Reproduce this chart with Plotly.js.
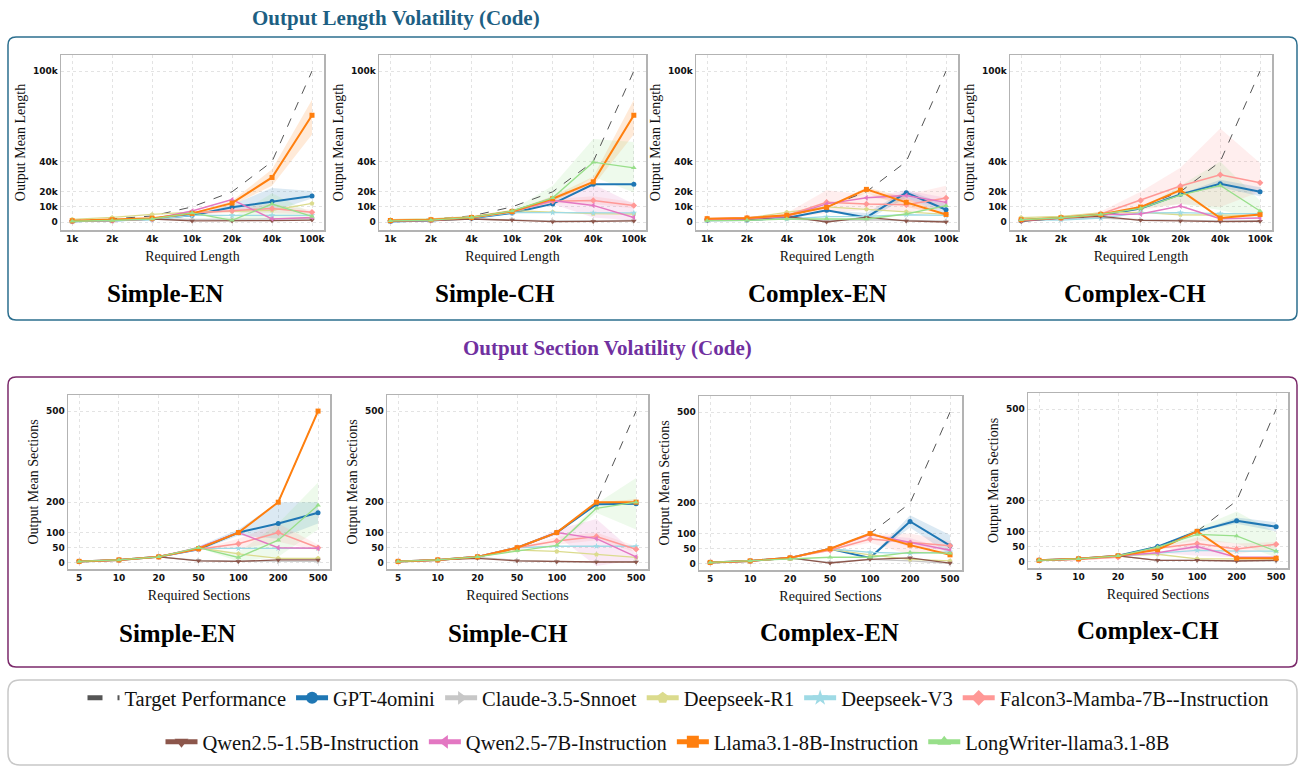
<!DOCTYPE html>
<html>
<head>
<meta charset="utf-8">
<script src="https://cdn.plot.ly/plotly-3.0.1.min.js"></script>
<style>html,body{margin:0;padding:0;background:#fff;}#chart{width:1298px;height:766px;}</style>
</head>
<body>
<div id="chart"></div>
<script>
// ---------------- DATA ----------------
const models = ["Target Performance","GPT-4omini","Claude-3.5-Snnoet","Deepseek-R1","Deepseek-V3",
  "Falcon3-Mamba-7B--Instruction","Qwen2.5-1.5B-Instruction","Qwen2.5-7B-Instruction",
  "Llama3.1-8B-Instruction","LongWriter-llama3.1-8B"];
const lengthCats = ["1k","2k","4k","10k","20k","40k","100k"];
const sectionCats = ["5","10","20","50","100","200","500"];
const lengthTickVals = [0,10000,20000,40000,100000];
const lengthTickText = ["0","10k","20k","40k","100k"];
const sectionTickVals = [0,50,100,200,500];
const sectionTickText = ["0","50","100","200","500"];
const panelNames = ["Simple-EN","Simple-CH","Complex-EN","Complex-CH"];

// Output length (order follows `models`)
const lenSimpleEN = [
  [1000,2000,4000,10000,20000,40000,100000],
  [500,1000,2000,4400,9700,13600,17200],
  [900,1500,2000,1800,1800,2000,2300],
  [1800,3000,5000,6600,7000,7700,12300],
  [300,700,1500,4400,4400,4400,4400],
  [500,1000,2000,6000,7500,9000,6400],
  [300,1000,2000,700,700,900,1300],
  [500,1000,2000,7300,14800,2000,3000],
  [800,1500,2500,5700,12500,29500,70700],
  [500,1000,2000,6000,1100,11900,3700]
];
const lenSimpleCH = [
  [1000,2000,4000,10000,20000,40000,100000],
  [300,1000,2500,6000,12000,25000,25000],
  [500,1000,2000,1500,800,800,1000],
  [1500,2000,3500,7500,6600,5500,5300],
  [500,1000,2500,6200,6200,6000,6000],
  [800,1200,3000,7000,13700,14300,11000],
  [500,1000,2000,1300,200,400,700],
  [800,1200,3000,7000,14300,11000,3000],
  [1000,1500,3000,7000,15400,26600,70700],
  [800,1200,3000,7300,16000,39600,35900]
];
const lenComplexEN = [
  [1000,2000,4000,10000,20000,40000,100000],
  [1100,1300,2600,7700,3000,19400,8100],
  [1100,1300,2000,1000,1500,1000,500],
  [2000,2600,6400,10000,8400,6800,5000],
  [1100,1300,2000,3500,3700,4800,4400],
  [2200,2800,4400,13000,11900,11500,15900],
  [1100,1500,3700,0,3000,700,0],
  [1500,2200,3700,12000,16000,17600,13000],
  [2200,2600,4400,9700,21600,13000,5000],
  [900,1100,2000,2200,2000,5300,10800]
];
const lenComplexCH = [
  [1000,2000,4000,10000,20000,40000,100000],
  [900,2600,4400,9000,18300,25300,20000],
  [1500,2000,2500,1500,1000,800,800],
  [2900,3700,6000,6400,4800,4600,4400],
  [1500,1300,2600,6000,6200,5500,5500],
  [1500,2600,5300,14300,23800,31300,26000],
  [400,2600,3700,1100,700,300,500],
  [1000,2600,4800,5300,10600,2200,2600],
  [1500,2800,5000,9900,21100,2600,5000],
  [1500,2800,5000,9000,17800,24200,7300]
];
// Output sections
const secSimpleEN = [
  [5,10,20,50,100,200,500],
  [5,10,20,45,100,130,165],
  [5,10,20,8,6,5,5],
  [5,10,20,50,30,15,15],
  [5,10,20,48,48,48,48],
  [5,10,20,45,63,100,50],
  [5,10,20,7,5,10,10],
  [5,10,20,50,100,50,48],
  [5,10,20,47,100,200,500],
  [5,10,20,50,18,75,190]
];
const secSimpleCH = [
  [5,10,20,50,100,200,500],
  [5,10,20,50,100,193,195],
  [5,10,18,8,4,4,4],
  [5,10,20,42,38,28,18],
  [5,10,20,50,55,55,55],
  [5,10,20,50,72,87,45],
  [5,10,15,7,4,3,3],
  [5,10,20,50,100,80,20],
  [5,10,20,50,100,200,200],
  [5,10,20,40,58,180,200]
];
const secComplexEN = [
  [5,10,20,50,100,200,500],
  [5,10,20,50,20,140,60],
  [5,10,18,5,15,10,2],
  [5,10,20,48,30,15,10],
  [5,10,20,50,38,35,40],
  [5,10,20,45,82,70,60],
  [5,10,20,3,15,20,3],
  [5,10,20,50,97,70,45],
  [5,10,20,50,100,62,30],
  [5,10,15,22,22,38,35]
];
const secComplexCH = [
  [5,10,20,50,100,200,500],
  [5,10,20,50,100,135,115],
  [5,10,20,5,5,3,3],
  [5,10,20,25,10,10,10],
  [5,10,20,30,38,35,35],
  [5,8,15,45,60,42,58],
  [5,10,20,5,5,3,5],
  [5,10,20,30,50,15,15],
  [5,10,20,40,100,12,12],
  [5,10,20,48,90,85,35]
];

// Variability bands: [model index, lower, upper]
const bandsLenSimpleEN = [
  [8,[800,1500,2500,5200,11000,24000,58000],[800,1500,2500,6200,14000,35000,81000]],
  [1,[500,1000,2000,4000,8000,7000,15500],[500,1000,2000,4800,11500,22500,20500]],
  [9,[500,1000,2000,5500,0,2000,1000],[500,1000,2000,6500,3000,19000,6000]],
  [5,[500,1000,2000,5000,6000,6000,5000],[500,1000,2000,7000,9000,12000,8000]]
];
const bandsLenSimpleCH = [
  [8,[1000,1500,3000,6500,14000,24000,58000],[1000,1500,3000,7500,17000,30000,81000]],
  [9,[800,1200,3000,6500,12000,30000,19600],[800,1200,3000,8000,24000,55000,52900]],
  [7,[800,1200,3000,7000,12000,3000,1000],[800,1200,3000,7000,17000,25000,12000]],
  [5,[800,1200,3000,7000,12500,12000,9000],[800,1200,3000,7000,15000,17000,13000]]
];
const bandsLenComplexEN = [
  [5,[2200,2800,2000,6000,8000,7000,9000],[2200,2800,6000,21000,18000,18000,24000]],
  [1,[1100,1300,2600,7700,1000,16000,5000],[1100,1300,2600,7700,6000,21000,12000]],
  [7,[1500,2200,3700,12000,16000,14000,10000],[1500,2200,3700,12000,16000,21000,16000]],
  [8,[2200,2600,4400,9700,19000,10000,5000],[2200,2600,4400,9700,23000,16000,5000]]
];
const bandsLenComplexCH = [
  [5,[1500,2600,4000,8000,12000,10000,20000],[1500,2600,7000,20000,36000,62000,39000]],
  [9,[1500,2800,5000,9000,12000,8000,2000],[1500,2800,5000,9000,24000,40000,14000]],
  [1,[900,2600,4400,9000,18300,23000,17000],[900,2600,4400,9000,18300,28000,23000]]
];
const bandsSecSimpleEN = [
  [1,[5,10,20,40,90,80,130],[5,10,20,55,110,200,200]],
  [9,[5,10,20,50,5,20,110],[5,10,20,50,35,130,265]],
  [5,[5,10,20,45,45,70,40],[5,10,20,45,80,130,60]]
];
const bandsSecSimpleCH = [
  [9,[5,10,20,40,58,165,110],[5,10,20,40,58,195,280]],
  [7,[5,10,20,50,90,-10,10],[5,10,20,50,110,145,30]],
  [5,[5,10,20,50,60,75,35],[5,10,20,50,85,100,55]],
  [8,[5,10,20,50,100,200,190],[5,10,20,50,100,200,210]]
];
const bandsSecComplexEN = [
  [1,[5,10,20,50,20,120,30],[5,10,20,50,20,160,95]],
  [5,[5,10,20,45,70,30,40],[5,10,20,45,95,100,75]],
  [7,[5,10,20,50,97,55,45],[5,10,20,50,97,85,45]]
];
const bandsSecComplexCH = [
  [9,[5,10,20,48,70,60,15],[5,10,20,48,110,165,95]],
  [1,[5,10,20,50,100,125,100],[5,10,20,50,100,145,130]],
  [5,[5,8,15,45,40,25,45],[5,8,15,45,80,60,65]],
  [7,[5,10,20,30,20,15,15],[5,10,20,30,60,15,15]]
];

// ---------------- STYLE ----------------
const colors = ["#555555","#1f77b4","#c7c7c7","#dbdb8d","#9edae5","#ff9896","#8c564b","#e377c2","#ff7f0e","#98df8a"];
const symbols = ["circle","circle","triangle-right","pentagon","star","diamond","triangle-down","triangle-left","square","triangle-up"];
const lineWidths = [1,2,1.3,1.3,1.3,1.5,1.3,1.5,2,1.3];

const W = 1298, H = 766;
const PX = v => v / W, PY = v => 1 - v / H;
function hexA(hex, a){
  const r=parseInt(hex.slice(1,3),16), g=parseInt(hex.slice(3,5),16), b=parseInt(hex.slice(5,7),16);
  return `rgba(${r},${g},${b},${a})`;
}

const panels = [
  {data:lenSimpleEN, bands:bandsLenSimpleEN, kind:"len", box:[61,324,55,230]},
  {data:lenSimpleCH, bands:bandsLenSimpleCH, kind:"len", box:[379,646,55,230]},
  {data:lenComplexEN, bands:bandsLenComplexEN, kind:"len", box:[696,958,55,230]},
  {data:lenComplexCH, bands:bandsLenComplexCH, kind:"len", box:[1010,1272,55,230]},
  {data:secSimpleEN, bands:bandsSecSimpleEN, kind:"sec", box:[68,330,395,569]},
  {data:secSimpleCH, bands:bandsSecSimpleCH, kind:"sec", box:[387,648,395,569]},
  {data:secComplexEN, bands:bandsSecComplexEN, kind:"sec", box:[699,962,396,570]},
  {data:secComplexCH, bands:bandsSecComplexCH, kind:"sec", box:[1028,1288,393,568]}
];

const legendFont = {family: "Liberation Serif, Times New Roman, serif", size: 20.5, color: "#111"};
const traces = [];
const layout = {
  width: W, height: H,
  margin: {l:0, r:0, t:0, b:0},
  paper_bgcolor: "#ffffff",
  plot_bgcolor: "#ffffff",
  showlegend: true,
  annotations: [],
  shapes: [],
  legend: {
    orientation: "h", x: PX(678), xanchor: "center", y: PY(698), yanchor: "middle",
    font: legendFont, itemsizing: "constant", itemwidth: 32, bgcolor: "rgba(0,0,0,0)"
  },
  legend2: {
    orientation: "h", x: PX(668), xanchor: "center", y: PY(742), yanchor: "middle",
    font: legendFont, itemsizing: "constant", itemwidth: 32, bgcolor: "rgba(0,0,0,0)"
  }
};

const tickFont = {family: "DejaVu Sans, sans-serif", size: 9, color: "#111", weight: "bold"};
const axTitleFont = {family: "Liberation Serif, Times New Roman, serif", size: 14, color: "#111"};

panels.forEach((p, i) => {
  const n = i + 1;
  const xs = n === 1 ? "" : String(n);
  const xa = "x" + xs, ya = "y" + xs;
  const cats = p.kind === "len" ? lengthCats : sectionCats;
  const [x0, x1, y0, y1] = p.box;

  p.bands.forEach(([si, lo, hi]) => {
    traces.push({
      type: "scatter", mode: "lines",
      x: cats.concat(cats.slice().reverse()),
      y: hi.concat(lo.slice().reverse()),
      fill: "toself", fillcolor: hexA(colors[si], 0.16),
      line: {width: 0}, hoverinfo: "skip", showlegend: false,
      xaxis: xa, yaxis: ya
    });
  });

  p.data.forEach((vals, si) => {
    const isTarget = si === 0;
    traces.push({
      type: "scatter",
      mode: isTarget ? "lines" : "lines+markers",
      name: models[si],
      x: cats, y: vals,
      line: {color: colors[si], width: lineWidths[si], dash: isTarget ? "dash" : "solid"},
      marker: {symbol: symbols[si], size: 5, color: colors[si]},
      showlegend: i === 0,
      legend: si < 6 ? "legend" : "legend2",
      legendgroup: models[si],
      xaxis: xa, yaxis: ya
    });
  });

  layout["xaxis" + xs] = {
    domain: [PX(x0), PX(x1)], anchor: ya, type: "category",
    categoryorder: "array", categoryarray: cats,
    range: [-0.28, 6.3],
    showgrid: true, gridcolor: "#e3e3e3", griddash: "dot", gridwidth: 1,
    showline: true, mirror: true, linecolor: "#b3b3b3", linewidth: 1.5,
    ticks: "", tickfont: tickFont, zeroline: false, fixedrange: true,
    title: {text: p.kind === "len" ? "Required Length" : "Required Sections", font: axTitleFont, standoff: 8}
  };
  layout["yaxis" + xs] = {
    domain: [PY(y1), PY(y0)], anchor: xa,
    range: p.kind === "len" ? [-5300, 110600] : [-20, 553],
    tickmode: "array",
    tickvals: p.kind === "len" ? lengthTickVals : sectionTickVals,
    ticktext: p.kind === "len" ? lengthTickText : sectionTickText,
    showgrid: true, gridcolor: "#e3e3e3", griddash: "dot", gridwidth: 1,
    showline: true, mirror: true, linecolor: "#b3b3b3", linewidth: 1.5,
    ticks: "", tickfont: tickFont, zeroline: false, fixedrange: true,
    title: {text: p.kind === "len" ? "Output Mean Length" : "Output Mean Sections", font: axTitleFont, standoff: 4}
  };
});

// Panel names
const nameFont = {family: "Liberation Serif, Times New Roman, serif", size: 25, color: "#000", weight: "bold"};
const namePos = [[165,293],[495,293],[818,293],[1135,293],[177,633],[508,633],[830,632],[1148,630]];
namePos.forEach(([x, y], i) => {
  layout.annotations.push({text: panelNames[i % 4], x: PX(x), y: PY(y), xref: "paper", yref: "paper",
    xanchor: "center", yanchor: "middle", showarrow: false, font: nameFont});
});
// Section titles
layout.annotations.push({text: "Output Length Volatility (Code)", x: PX(396), y: PY(18), xref: "paper", yref: "paper",
  xanchor: "center", yanchor: "middle", showarrow: false,
  font: {family: "Liberation Serif, Times New Roman, serif", size: 21, color: "#1d5f83", weight: "bold"}});
layout.annotations.push({text: "Output Section Volatility (Code)", x: PX(607), y: PY(348), xref: "paper", yref: "paper",
  xanchor: "center", yanchor: "middle", showarrow: false,
  font: {family: "Liberation Serif, Times New Roman, serif", size: 21, color: "#7030a0", weight: "bold"}});

// Rounded frames
function rrect(x0, y0, x1, y1, r){
  const X = v => PX(v).toFixed(5), Y = v => PY(v).toFixed(5);
  return `M${X(x0+r)},${Y(y0)} L${X(x1-r)},${Y(y0)} Q${X(x1)},${Y(y0)} ${X(x1)},${Y(y0+r)} ` +
         `L${X(x1)},${Y(y1-r)} Q${X(x1)},${Y(y1)} ${X(x1-r)},${Y(y1)} L${X(x0+r)},${Y(y1)} ` +
         `Q${X(x0)},${Y(y1)} ${X(x0)},${Y(y1-r)} L${X(x0)},${Y(y0+r)} Q${X(x0)},${Y(y0)} ${X(x0+r)},${Y(y0)} Z`;
}
layout.shapes.push({type: "path", xref: "paper", yref: "paper", path: rrect(8,37,1297,320,8), line: {color: "#2c6f8f", width: 1.5}, layer: "below"});
layout.shapes.push({type: "path", xref: "paper", yref: "paper", path: rrect(8,377,1297,667,8), line: {color: "#7b2a6b", width: 1.5}, layer: "below"});
layout.shapes.push({type: "path", xref: "paper", yref: "paper", path: rrect(8,680,1297,765,12), line: {color: "#c8c8c8", width: 1.5}, layer: "below"});

Plotly.newPlot("chart", traces, layout, {displayModeBar: false, staticPlot: true});
</script>
</body>
</html>
